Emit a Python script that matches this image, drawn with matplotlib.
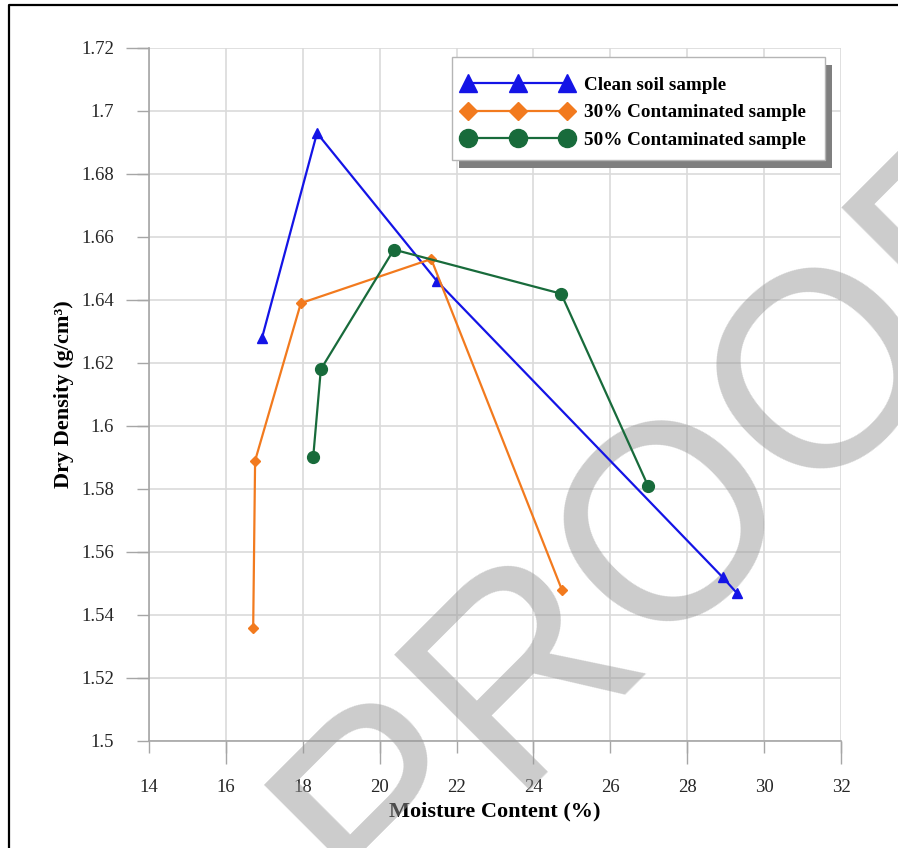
import numpy as np
import matplotlib.pyplot as plt
from matplotlib.lines import Line2D
from matplotlib.patches import Rectangle
from matplotlib.ticker import FixedLocator, FuncFormatter

# data
clean_x = [16.94, 18.37, 21.49, 28.92, 29.29]
clean_y = [1.628, 1.693, 1.646, 1.552, 1.547]
c30_x = [16.71, 16.76, 17.95, 21.34, 24.74]
c30_y = [1.536, 1.589, 1.639, 1.653, 1.548]
c50_x = [18.27, 18.47, 20.37, 24.72, 26.98]
c50_y = [1.590, 1.618, 1.656, 1.642, 1.581]
labels = ["Clean soil sample", "30% Contaminated sample", "50% Contaminated sample"]

x_ticks = list(range(14, 33, 2))
y_ticks = [round(1.50 + 0.02 * i, 2) for i in range(12)]
x_long = [t for t in x_ticks if t % 4 == 0]
y_long = [t for t in y_ticks if round(t * 100) % 4 == 0]

blue = "#1414e6"
orange = "#f27a1e"
green = "#186b3b"
serif = "Liberation Serif"

W, H = 898, 848
fig = plt.figure(figsize=(W / 100, H / 100), dpi=100)
ax = fig.add_axes([149 / W, 1 - 741 / H, 692 / W, 693 / H])

ax.plot(clean_x, clean_y, color=blue, lw=1.6, marker="^", ms=7, zorder=3)
ax.plot(c30_x, c30_y, color=orange, lw=1.6, marker="D", ms=5.6, zorder=3)
ax.plot(c50_x, c50_y, color=green, lw=1.6, marker="o", ms=8.5, zorder=3)

ax.set_xlim(14, 32)
ax.set_ylim(1.5, 1.72)
ax.set_axisbelow(True)

ax.xaxis.set_major_locator(FixedLocator(x_ticks))
ax.yaxis.set_major_locator(FixedLocator(y_ticks))
ax.xaxis.set_minor_locator(FixedLocator(x_long))
ax.yaxis.set_minor_locator(FixedLocator(y_long))
ax.xaxis.remove_overlapping_locs = False
ax.yaxis.remove_overlapping_locs = False
ax.yaxis.set_major_formatter(FuncFormatter(lambda v, p: "%g" % v))

ax.grid(True, which="major", color="#dadada", lw=1.2)
ax.tick_params(which="major", length=8.6, width=1, color="#a6a6a6",
               labelsize=13.5, labelcolor="#262626")
ax.tick_params(which="minor", length=16.6, width=1, color="#a6a6a6")
ax.tick_params(axis="x", which="major", pad=19)
ax.tick_params(axis="y", which="major", pad=16.6)
for lab in ax.get_xticklabels() + ax.get_yticklabels():
    lab.set_family(serif)

for s in ["top", "right"]:
    ax.spines[s].set_visible(False)
for s in ["left", "bottom"]:
    ax.spines[s].set_color("#a6a6a6")
    ax.spines[s].set_linewidth(1.2)
    ax.spines[s].set_zorder(0.6)

ax.set_xlabel("Moisture Content (%)", family=serif, weight="bold", fontsize=16)
ax.set_ylabel("Dry Density (g/cm³)", family=serif, weight="bold", fontsize=16)
ax.xaxis.set_label_coords(0.5, -0.0866)
ax.yaxis.set_label_coords(-0.108, 0.5)

# watermark
ax.text(726 / W, 1 - 572 / H, "PROOF", transform=fig.transFigure, rotation=45,
        rotation_mode="anchor", ha="center", va="baseline", fontsize=200,
        family="Liberation Sans", color="#999999", alpha=0.5, zorder=1, clip_on=False)

# legend box with shadow
fig.add_artist(Rectangle((459 / W, 1 - 168 / H), 373 / W, 103 / H, transform=fig.transFigure,
                         facecolor="#7f7f7f", edgecolor="none", zorder=1))
fig.add_artist(Rectangle((452 / W, 1 - 160 / H), 373 / W, 103 / H, transform=fig.transFigure,
                         facecolor="white", edgecolor="#b5b5b5", lw=1, zorder=1.1))
handles = [
    Line2D([], [], color=blue, lw=1.6, marker="^", ms=12.5),
    Line2D([], [], color=orange, lw=1.6, marker="D", ms=8.8),
    Line2D([], [], color=green, lw=1.6, marker="o", ms=13),
]
fig.legend(handles, labels, loc="upper left", bbox_to_anchor=(462 / W, 1 - 76.5 / H),
           bbox_transform=fig.transFigure, frameon=False, numpoints=3,
           handlelength=5.8, handletextpad=0.55, labelspacing=0.52, borderpad=0,
           borderaxespad=0, prop={"family": serif, "weight": "bold", "size": 13.8})

# outer frame (left and top edges)
fig.add_artist(Line2D([8.5 / W, 8.5 / W, 1.0], [0, 1 - 4.5 / H, 1 - 4.5 / H],
                      transform=fig.transFigure, color="black", lw=1.6))

fig.savefig("out.png", dpi=100)
